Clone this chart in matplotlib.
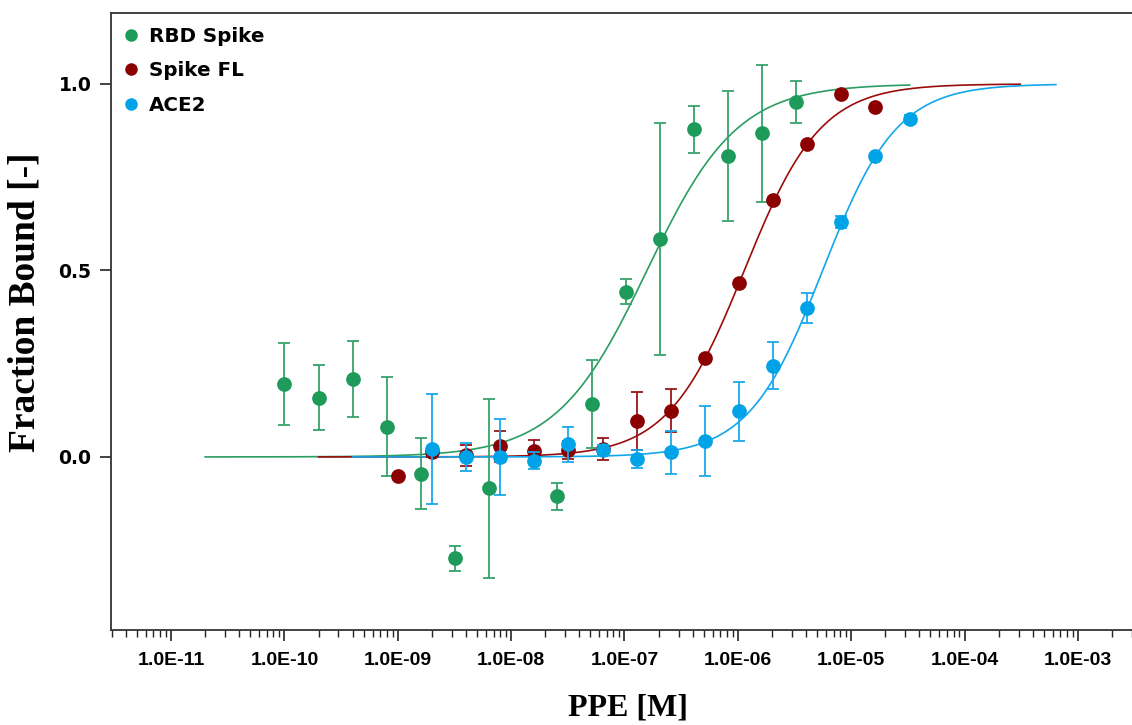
import numpy as np
import matplotlib
matplotlib.use("Agg")
import matplotlib.pyplot as plt
from matplotlib.ticker import LogLocator, FixedLocator, NullFormatter

# ---------------- data ----------------
rbd_conc = [1.0e-10, 2.0e-10, 4.0e-10, 8.0e-10, 1.6e-9, 3.2e-9, 6.4e-9, 2.56e-8,
            5.12e-8, 1.024e-7, 2.048e-7, 4.096e-7, 8.192e-7, 1.638e-6, 3.277e-6]
rbd_frac = [0.195, 0.159, 0.209, 0.081, -0.045, -0.272, -0.084, -0.106,
            0.142, 0.443, 0.584, 0.878, 0.807, 0.868, 0.952]
rbd_err = [0.110, 0.087, 0.102, 0.133, 0.095, 0.033, 0.240, 0.037,
           0.118, 0.033, 0.311, 0.064, 0.174, 0.184, 0.057]

fl_conc = [1.0e-9, 2.0e-9, 4.0e-9, 8.0e-9, 1.6e-8, 3.2e-8, 6.4e-8, 1.28e-7,
           2.56e-7, 5.12e-7, 1.024e-6, 2.048e-6, 4.096e-6, 8.192e-6, 1.638e-5]
fl_frac = [-0.050, 0.012, 0.005, 0.028, 0.017, 0.019, 0.021, 0.096,
           0.124, 0.264, 0.467, 0.688, 0.838, 0.972, 0.939]
fl_err = [0.0, 0.012, 0.028, 0.042, 0.029, 0.025, 0.030, 0.077,
          0.057, 0.0, 0.0, 0.0, 0.0, 0.0, 0.0]

ace_conc = [2.0e-9, 4.0e-9, 8.0e-9, 1.6e-8, 3.2e-8, 6.4e-8, 1.28e-7, 2.56e-7,
            5.12e-7, 1.024e-6, 2.048e-6, 4.096e-6, 8.192e-6, 1.638e-5, 3.277e-5]
ace_frac = [0.021, -0.001, 0.000, -0.010, 0.034, 0.019, -0.006, 0.012,
            0.043, 0.122, 0.244, 0.399, 0.630, 0.806, 0.906]
ace_err = [0.147, 0.038, 0.101, 0.022, 0.047, 0.012, 0.024, 0.058,
           0.094, 0.079, 0.063, 0.040, 0.015, 0.0, 0.010]

# fitted parameters (Hill model)
rbd_kd, rbd_n = 1.58e-7, 1.09
fl_kd, fl_n = 1.14e-6, 1.29
ace_kd, ace_n = 5.6e-6, 1.33
rbd_fit_range = (2.0e-11, 3.28e-5)
fl_fit_range = (2.0e-10, 3.1e-4)
ace_fit_range = (4.0e-10, 6.4e-4)

labels = ["RBD Spike", "Spike FL", "ACE2"]
x_ticks = [1e-11, 1e-10, 1e-9, 1e-8, 1e-7, 1e-6, 1e-5, 1e-4, 1e-3]
x_ticklabels = ["1.0E-11", "1.0E-10", "1.0E-09", "1.0E-08", "1.0E-07",
                "1.0E-06", "1.0E-05", "1.0E-04", "1.0E-03"]
y_ticks = [0.0, 0.5, 1.0]
y_ticklabels = ["0.0", "0.5", "1.0"]

# ---------------- style ----------------
col_marker = ["#1e9a5a", "#8b0000", "#00a2e8"]
col_err = ["#35a36a", "#981616", "#1aa8ea"]
col_line = ["#2a9d62", "#9a0c0c", "#12a6ea"]


def hill(c, kd, n):
    c = np.asarray(c)
    return c ** n / (kd ** n + c ** n)


fig = plt.figure(figsize=(11.32, 7.25), dpi=100)
ax = fig.add_axes([0.098, 0.131, 0.902, 0.851])

series = [
    (rbd_conc, rbd_frac, rbd_err, rbd_kd, rbd_n, rbd_fit_range),
    (fl_conc, fl_frac, fl_err, fl_kd, fl_n, fl_fit_range),
    (ace_conc, ace_frac, ace_err, ace_kd, ace_n, ace_fit_range),
]

for i, (xc, yf, ye, kd, n, rng) in enumerate(series):
    xs = np.logspace(np.log10(rng[0]), np.log10(rng[1]), 400)
    ax.plot(xs, hill(xs, kd, n), color=col_line[i], lw=1.2, zorder=2 + i * 0.1)

for i, (xc, yf, ye, kd, n, rng) in enumerate(series):
    xc = np.array(xc)
    yf = np.array(yf)
    ye = np.array(ye)
    m = ye > 0
    ax.errorbar(xc[m], yf[m], yerr=ye[m], fmt="none", ecolor=col_err[i],
                elinewidth=1.3, capsize=4.2, capthick=1.3, zorder=3 + i)
    ax.plot(xc, yf, "o", color=col_marker[i], ms=10.6, mec="none",
            label=labels[i], zorder=3.5 + i)

ax.set_xscale("log")
ax.set_xlim(2.95e-12, 3.0e-3)
ax.set_ylim(-0.464, 1.19)

ax.xaxis.set_major_locator(FixedLocator(x_ticks))
ax.set_xticklabels(x_ticklabels)
ax.xaxis.set_minor_locator(LogLocator(base=10, subs=np.arange(2, 10), numticks=30))
ax.xaxis.set_minor_formatter(NullFormatter())
ax.set_yticks(y_ticks)
ax.set_yticklabels(y_ticklabels)

ax.tick_params(axis="x", which="major", direction="out", length=8, width=1.2,
               pad=8, color="#222222")
ax.tick_params(axis="x", which="minor", direction="out", length=5, width=1.0,
               color="#222222")
ax.tick_params(axis="y", which="major", direction="out", length=8, width=1.2,
               pad=6, color="#222222")

for lab in ax.get_xticklabels():
    lab.set_fontfamily(["Liberation Sans Narrow", "Liberation Sans", "DejaVu Sans"])
    lab.set_fontweight("bold")
    lab.set_fontsize(14)
for lab in ax.get_yticklabels():
    lab.set_fontfamily(["DejaVu Sans"])
    lab.set_fontweight("bold")
    lab.set_fontsize(13.5)

for s in ["left", "bottom", "top"]:
    ax.spines[s].set_linewidth(1.3)
    ax.spines[s].set_color("#333333")
ax.spines["right"].set_visible(False)

fig.text(628 / 1132, 1 - 708 / 725, "PPE [M]",
         fontfamily=["Liberation Serif", "DejaVu Serif"],
         fontweight="bold", fontsize=23, ha="center", va="center")
fig.text(25 / 1132, 1 - 302 / 725, "Fraction Bound [-]",
         fontfamily=["Liberation Serif", "DejaVu Serif"],
         fontweight="bold", fontsize=27, ha="center", va="center",
         rotation=90)

leg = ax.legend(loc="upper left", frameon=False, markerscale=0.85,
                prop={"family": "DejaVu Sans", "weight": "bold", "size": 14.3},
                handlelength=0.6, handletextpad=0.6, labelspacing=0.78,
                borderaxespad=0.3, bbox_to_anchor=(0.0, 1.0))

fig.savefig("out.png", dpi=100)
